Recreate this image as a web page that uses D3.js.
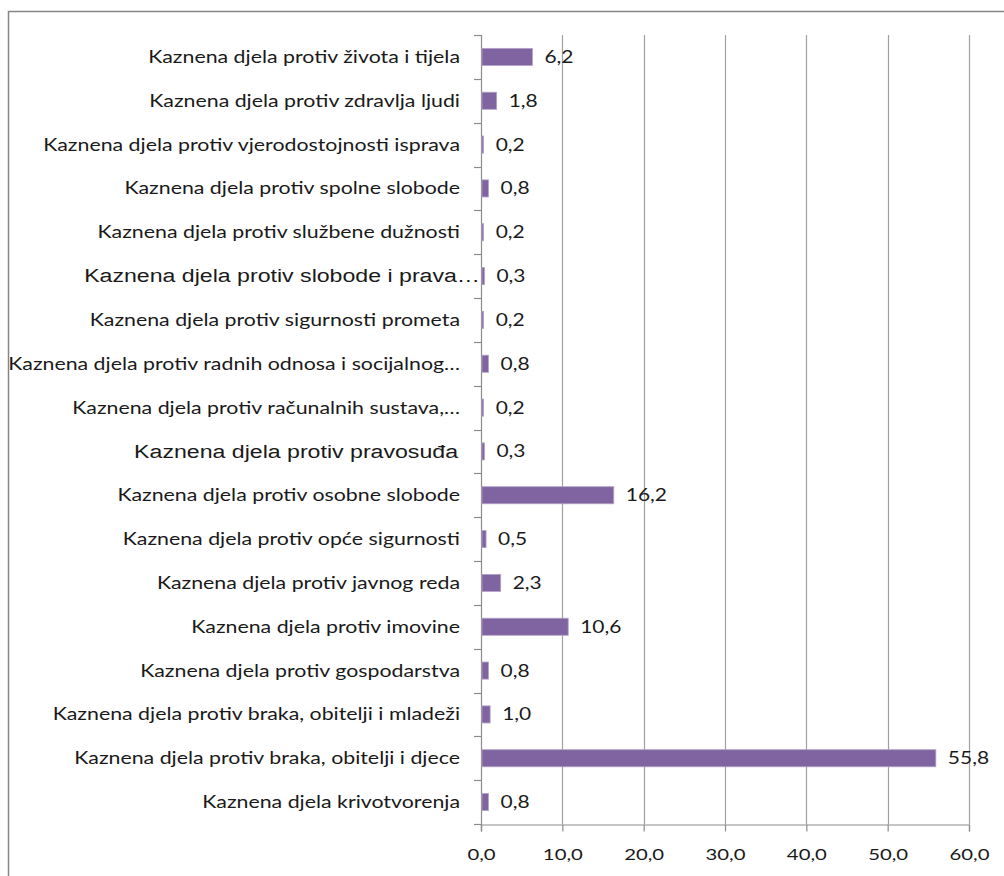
<!DOCTYPE html>
<html>
<head>
<meta charset="utf-8">
<script src="https://cdn.jsdelivr.net/npm/d3@7"></script>
<style>
  html, body { margin: 0; padding: 0; background: #fff; }
  svg { display: block; }
</style>
</head>
<body>
<script>
const categories = [
  "Kaznena djela protiv života i tijela",
  "Kaznena djela protiv zdravlja ljudi",
  "Kaznena djela protiv vjerodostojnosti isprava",
  "Kaznena djela protiv spolne slobode",
  "Kaznena djela protiv službene dužnosti",
  "Kaznena djela protiv slobode i prava…",
  "Kaznena djela protiv sigurnosti prometa",
  "Kaznena djela protiv radnih odnosa i socijalnog…",
  "Kaznena djela protiv računalnih sustava,…",
  "Kaznena djela protiv pravosuđa",
  "Kaznena djela protiv osobne slobode",
  "Kaznena djela protiv opće sigurnosti",
  "Kaznena djela protiv javnog reda",
  "Kaznena djela protiv imovine",
  "Kaznena djela protiv gospodarstva",
  "Kaznena djela protiv braka, obitelji i mladeži",
  "Kaznena djela protiv braka, obitelji i djece",
  "Kaznena djela krivotvorenja"
];
const values = [6.2, 1.8, 0.2, 0.8, 0.2, 0.3, 0.2, 0.8, 0.2, 0.3, 16.2, 0.5, 2.3, 10.6, 0.8, 1.0, 55.8, 0.8];
// categories whose label is rendered in a different (Arial-like) font
const arialLabels = ["Kaznena djela protiv slobode i prava…", "Kaznena djela protiv pravosuđa"];
const xTicks = [0, 10, 20, 30, 40, 50, 60];

const W = 1004, H = 876;
const margin = { top: 35, left: 481, right: 35, bottom: 52 };
const SX = 1.27; // horizontal stretch of the original picture's text
const SXA = 1.3;
const fmt = v => v.toFixed(1).replace(".", ",");
const mainFont = "Lato, 'Open Sans', sans-serif";
const altFont = "'Liberation Sans', Arial, sans-serif";

const svg = d3.select("body").append("svg").attr("width", W).attr("height", H);

// outer chart border
svg.append("rect")
  .attr("x", 8.5).attr("y", 11.5)
  .attr("width", W + 20).attr("height", H + 20)
  .attr("fill", "#fff").attr("stroke", "#868686").attr("stroke-width", 1.5);

const x = d3.scaleLinear().domain([0, 60]).range([margin.left, W - margin.right]);
const y = d3.scaleBand().domain(categories).range([margin.top, H - margin.bottom]).paddingInner(0.61).paddingOuter(0.305);
const bottom = H - margin.bottom;

// gridlines
svg.append("g").selectAll("line").data(xTicks.slice(1)).join("line")
  .attr("x1", d => Math.round(x(d)) + 0.5).attr("x2", d => Math.round(x(d)) + 0.5)
  .attr("y1", margin.top).attr("y2", bottom)
  .attr("stroke", "#a0a0a0").attr("stroke-width", 1.2);

// x axis
const xAxis = svg.append("g").attr("transform", `translate(0,${bottom + 0.5})`)
  .call(d3.axisBottom(x).tickValues(xTicks).tickFormat(fmt).tickSize(7).tickPadding(17));
xAxis.select(".domain").attr("stroke", "#8c8c8c").attr("stroke-width", 1.2);
xAxis.selectAll(".tick line").attr("stroke", "#8c8c8c").attr("stroke-width", 1.2);
xAxis.selectAll(".tick text").attr("font-family", mainFont)
  .attr("font-size", 16).attr("fill", "#1a1a1a")
  .attr("transform", `scale(${SX},1)`);

// y axis line and boundary ticks
const step = y.step();
const bounds = d3.range(categories.length + 1).map(i => margin.top + i * step);
svg.append("line")
  .attr("x1", margin.left + 0.5).attr("x2", margin.left + 0.5)
  .attr("y1", margin.top).attr("y2", bottom + 7)
  .attr("stroke", "#8c8c8c").attr("stroke-width", 1.2);
svg.append("g").selectAll("line").data(bounds).join("line")
  .attr("x1", margin.left - 7).attr("x2", margin.left + 0.5)
  .attr("y1", d => Math.round(d) + 0.5).attr("y2", d => Math.round(d) + 0.5)
  .attr("stroke", "#8c8c8c").attr("stroke-width", 1.2);

// bars
svg.append("g").selectAll("rect").data(values).join("rect")
  .attr("x", x(0) + 1)
  .attr("y", (d, i) => y(categories[i]))
  .attr("width", d => x(d) - x(0))
  .attr("height", y.bandwidth())
  .attr("fill", "#8064a2")
  .attr("stroke", "#b3a2c7").attr("stroke-width", 0.8);

// value labels
svg.append("g").selectAll("text").data(values).join("text")
  .attr("transform", (d, i) => `translate(${x(d) + 13},${y(categories[i]) + y.bandwidth() / 2}) scale(${SX},1)`)
  .attr("dy", "0.36em")
  .attr("font-family", mainFont)
  .attr("font-size", 16.5).attr("fill", "#1a1a1a")
  .text(fmt);

// category labels
svg.append("g").selectAll("text").data(categories).join("text")
  .attr("transform", d => {
    const alt = arialLabels.includes(d);
    const lx = alt ? (d.endsWith("…") ? 480 : 458) : 460;
    return `translate(${lx},${y(d) + y.bandwidth() / 2}) scale(${alt ? SXA : SX},1)`;
  })
  .attr("dy", "0.36em")
  .attr("text-anchor", "end")
  .attr("font-family", d => arialLabels.includes(d) ? altFont : mainFont)
  .attr("font-size", d => arialLabels.includes(d) ? 17.8 : 16.8)
  .attr("fill", "#1a1a1a")
  .text(d => d);
</script>
</body>
</html>
